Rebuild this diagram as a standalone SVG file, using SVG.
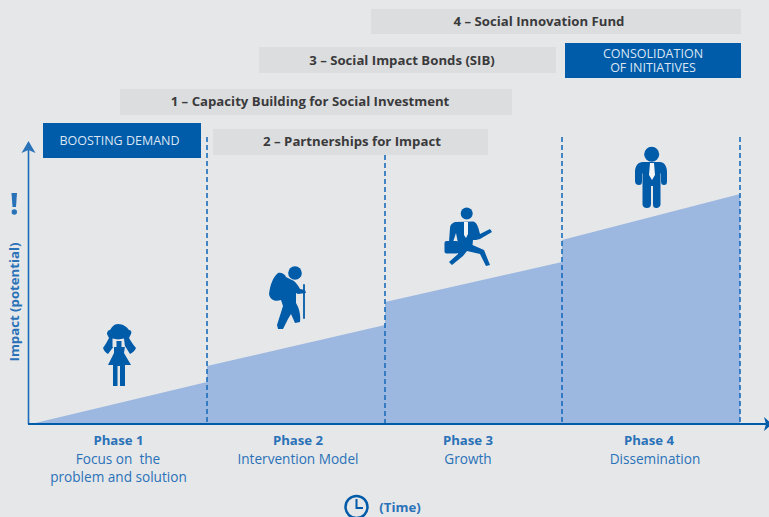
<svg xmlns="http://www.w3.org/2000/svg" width="769" height="517" viewBox="0 0 769 517">
<style>
text{font-family:"Open Sans","Noto Sans","Liberation Sans",sans-serif;text-anchor:middle}
.bar{fill:#dcddde}
.blue{fill:#005ba9}
.bt{font-size:13.2px;font-weight:700;fill:#3a3a3c}
.wt{font-size:12.5px;fill:#dbe6f3}
.ph{font-size:13.2px;font-weight:700;fill:#2a72b8}
.sub{font-size:13.6px;fill:#2a72b8}
.dash{stroke:#1a6dbb;stroke-width:1.6;stroke-dasharray:5 3;fill:none}
.ic{fill:#005ba9}
.icl{fill:none;stroke:#005ba9;stroke-linecap:round;stroke-linejoin:round}
</style>
<rect width="769" height="517" fill="#e6e7e9"/>
<g id="chart">
<path d="M31 424L207 382V366L385 325V302L562 262V240L740 194V424Z" fill="#9db8e0"/>
</g>
<g id="connectors">
<path class="dash" d="M207 137V424M385 155V424M562 137V424M740 137V424"/>
<path d="M28.500 424V150" stroke="#1a6dbb" stroke-width="1.600" fill="none"/>
<path d="M21.500 153L28.500 141L35.500 153L28.500 150Z" fill="#2a72b8"/>
<path d="M28 424H766" stroke="#005ba9" stroke-width="1.800" fill="none"/>
<path d="M764 417L772 424L764 431L766 424Z" fill="#005ba9"/>
</g>
<g id="bars">
<g id="fund"><rect class="bar" x="371" y="9" width="370" height="25"/><text class="bt" x="539" y="26">4 – Social Innovation Fund</text></g>
<g id="sib"><rect class="bar" x="259" y="47" width="297" height="26"/><text class="bt" x="402" y="65">3 – Social Impact Bonds (SIB)</text></g>
<g id="consolidation"><rect class="blue" x="565" y="43" width="176" height="35"/><text class="wt"><tspan x="653" y="57.500">CONSOLIDATION</tspan><tspan x="653" y="71.500">OF INITIATIVES</tspan></text></g>
<g id="capacity"><rect class="bar" x="120" y="89" width="392" height="26"/><text class="bt" x="310" y="106">1 – Capacity Building for Social Investment</text></g>
<g id="boosting"><rect class="blue" x="43" y="123" width="158" height="35"/><text class="wt" x="119.500" y="145">BOOSTING DEMAND</text></g>
<g id="partnerships"><rect class="bar" x="213" y="129" width="275" height="26"/><text class="bt" x="352" y="146">2 – Partnerships for Impact</text></g>
</g>
<g id="axis-y">
<text class="ph" transform="translate(19 302) rotate(-90)">Impact (potential)</text>
<path d="M11.500 193H17L16 207H12.500Z" fill="#2a72b8"/><circle cx="14.300" cy="212" r="2.700" fill="#2a72b8"/>
</g>
<g id="phase1"><text class="ph" x="118.500" y="445">Phase 1</text><text class="sub" x="118" y="464" xml:space="preserve">Focus on  the</text><text class="sub" x="118.500" y="482">problem and solution</text></g>
<g id="phase2"><text class="ph" x="298" y="445">Phase 2</text><text class="sub" x="298" y="464">Intervention Model</text></g>
<g id="phase3"><text class="ph" x="468" y="445">Phase 3</text><text class="sub" x="468" y="464">Growth</text></g>
<g id="phase4"><text class="ph" x="649" y="445">Phase 4</text><text class="sub" x="655" y="464">Dissemination</text></g>
<g id="time">
<circle cx="356.500" cy="507" r="11" fill="none" stroke="#005ba9" stroke-width="2.500"/>
<path d="M356.500 499V508H363" fill="none" stroke="#005ba9" stroke-width="2"/>
<text class="ph" x="400" y="512">(Time)</text>
</g>
<g id="girl">
<path class="ic" d="M118 324C123 324 127 327 129 330C131 330 132 332 131 334L129 338C131 341 133 345 136 348C135 351 132 353 130 354L125 346L124 353L131 365H125V386H120V366H117.500V386H113V365H108L114 353L114 346L108 354C106 353 104 351 103 348C105 345 107 342 109 338L107 334C107 332 108 330 110 330C112 327 114 324 118 324Z"/>
<path d="M112.500 338.500L118 339.500L124 338.500L125 347H121.500V341H116.500V347H112.500Z" fill="#e6e7e9"/>
</g>
<g id="hiker">
<circle class="ic" cx="295" cy="273" r="6.800"/>
<path class="ic" d="M278 273C281 272 285 274 286 277L292 280C295 281 298 285 300 289L305 290L306 293L298 294L296 293L296 303C299 308 301 315 300 322L295 323L291 314L288 319L283 329L278 329L277 325L283 306L281 300C275 302 270 300 269 294C270 285 273 277 278 273Z"/>
<path class="icl" d="M304 285V318" stroke-width="1.800"/>
</g>
<g id="runner">
<circle class="ic" cx="466.700" cy="213.500" r="6"/>
<path class="ic" d="M455 222L473 221.500C476 222 478 225 480 234L490 229L492 232L480 239C477 240 475 240 473 240L472.500 245L484 250L490 265L486 266L480 254L467 251L463 256L452 265L449 262L458 254L458 243L456 233L453 242L449 242L450 228C450 225 452 223 455 222Z"/>
<rect class="ic" x="444.500" y="241" width="14" height="12.500" rx="2"/>
<path d="M464 222L468 222L468 234L466 238L464 235Z" fill="#f1f4f7"/>
</g>
<g id="man">
<circle class="ic" cx="651.700" cy="154.300" r="7.500"/>
<path class="ic" d="M643 162H660C664 162 667 166 667 172V181C667 184 666 185 664 185C662 185 661 184 661 181V173L660.500 174V204C660.500 207 658 208 656.500 208C654 208 653 207 653 204V186H651V204C651 207 649 208 647 208C645 208 642.500 207 642.500 204V174L642 173V181C642 184 641 185 639 185C637 185 635 184 635 181V172C635 166 638 162 643 162Z"/>
<path d="M650 163H654L655 175L652 180L649 175Z" fill="#f4f6f8"/>
</g>
</svg>
